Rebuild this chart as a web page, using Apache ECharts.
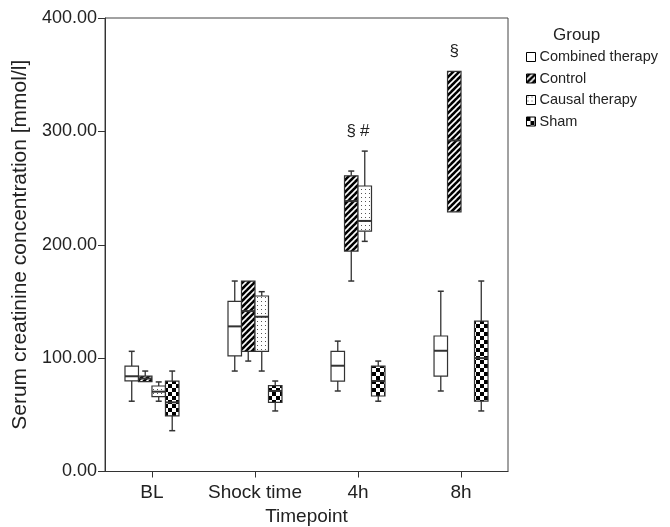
<!DOCTYPE html>
<html>
<head>
<meta charset="utf-8">
<script src="https://cdn.jsdelivr.net/npm/echarts@6/dist/echarts.min.js"></script>
<style>
  html, body { margin: 0; padding: 0; background: #fff; }
  #chart { width: 670px; height: 527px; }
</style>
</head>
<body>
<div id="chart"></div>
<script>
// timepoints on the x axis
const timepoints = ['BL', 'Shock time', '4h', '8h'];
const groupNames = ['Combined therapy', 'Control', 'Causal therapy', 'Sham'];
const yTicks = [0, 100, 200, 300, 400];

// box values per timepoint: [timepointIndex, low, q1, median, q3, high]
const combinedBoxes = [
  [0, 62, 80, 84, 93, 106],
  [1, 88.6, 102, 128, 150, 168],
  [2, 71, 79.8, 93.3, 106, 115],
  [3, 71, 84.2, 106.5, 119.5, 159]
];
const controlBoxes = [
  [0, 79.2, 79.2, 82, 84.2, 88.6],
  [1, 97.4, 106, 141.5, 168, 168],
  [2, 168, 194.4, 238.5, 260.8, 265],
  [3, 229, 229, 292, 353, 353]
];
const causalBoxes = [
  [0, 62, 66, 70.4, 75.4, 79],
  [1, 88.6, 106, 136.5, 154.8, 158.6],
  [2, 203, 212, 221, 251.8, 282.6]
];
const shamBoxes = [
  [0, 36, 49, 61, 79.8, 88.6],
  [1, 53.4, 61, 71, 75.7, 79.8],
  [2, 62, 66.6, 79.8, 93, 97.4],
  [3, 53.4, 62, 100, 132.7, 168]
];

// significance marks: [timepointIndex, groupIndex, text]
const marks = [
  [2, 1, '§'],
  [2, 2, '#'],
  [3, 1, '§']
];

const allBoxes = [combinedBoxes, controlBoxes, causalBoxes, shamBoxes];

function makePattern(kind) {
  const c = document.createElement('canvas');
  const ctx = c.getContext('2d');
  if (kind === 'stripes') {
    c.width = 6; c.height = 6;
    ctx.fillStyle = '#000';
    ctx.fillRect(0, 0, 6, 6);
    ctx.strokeStyle = '#fff';
    ctx.lineWidth = 1.6;
    [[0, 6, 6, 0], [-3, 3, 3, -3], [3, 9, 9, 3]].forEach(l => {
      ctx.beginPath(); ctx.moveTo(l[0], l[1]); ctx.lineTo(l[2], l[3]); ctx.stroke();
    });
  } else if (kind === 'dots') {
    c.width = 4; c.height = 4;
    ctx.fillStyle = '#fff';
    ctx.fillRect(0, 0, 4, 4);
    ctx.fillStyle = '#555';
    ctx.fillRect(1, 1, 1, 1);
  } else if (kind === 'checker') {
    c.width = 8; c.height = 8;
    ctx.fillStyle = '#fff';
    ctx.fillRect(0, 0, 8, 8);
    ctx.fillStyle = '#000';
    ctx.fillRect(0, 0, 4, 4);
    ctx.fillRect(4, 4, 4, 4);
  }
  return { image: c, repeat: 'repeat' };
}

const fills = ['#fff', makePattern('stripes'), makePattern('dots'), makePattern('checker')];
const BOX_W = 0.131; // in timepoint units
const LINE = '#333';
const font = '"Liberation Sans", Arial, sans-serif';

function renderBox(params, api) {
  const g = params.seriesIndex;
  const x = api.value(0) + (g - 1.5) * BOX_W;
  const xl = api.coord([x - BOX_W / 2, 0])[0];
  const xr = api.coord([x + BOX_W / 2, 0])[0];
  const xc = (xl + xr) / 2;
  const y = i => api.coord([x, api.value(i)])[1];
  const low = y(1), q1 = y(2), med = y(3), q3 = y(4), high = y(5);
  const cap = 3;
  const line = (x1, y1, x2, y2, w) => ({
    type: 'line', shape: { x1, y1, x2, y2 },
    style: { stroke: LINE, lineWidth: w || 1 }
  });
  const children = [];
  if (high < q3 - 0.5) {
    children.push(line(xc, high, xc, q3, 1.3), line(xc - cap, high, xc + cap, high, 1.5));
  }
  if (low > q1 + 0.5) {
    children.push(line(xc, q1, xc, low, 1.3), line(xc - cap, low, xc + cap, low, 1.5));
  }
  children.push({
    type: 'rect',
    shape: { x: xl, y: q3, width: xr - xl, height: q1 - q3 },
    style: { fill: fills[g], stroke: LINE, lineWidth: 1.2 }
  });
  children.push(line(xl, med, xr, med, 2));
  return { type: 'group', children };
}

function renderMark(params, api) {
  const t = api.value(0), g = api.value(1);
  const x = t + (g - 1.5) * BOX_W;
  let top = 0;
  allBoxes.forEach(list => list.forEach(b => { if (b[0] === t) top = Math.max(top, b[5]); }));
  const p = api.coord([x, top]);
  return {
    type: 'text',
    x: p[0], y: p[1] - 20,
    style: {
      text: marks[params.dataIndex][2], fill: '#222',
      font: '17px ' + font,
      align: 'center', verticalAlign: 'middle'
    }
  };
}

const chart = echarts.init(document.getElementById('chart'));

const series = allBoxes.map((list, g) => ({
  name: groupNames[g],
  type: 'custom',
  renderItem: renderBox,
  itemStyle: { color: fills[g], borderColor: '#000', borderWidth: 1 },
  encode: { x: 0, y: [1, 2, 3, 4, 5] },
  data: list,
  animation: false
}));
series.push({
  name: 'marks',
  type: 'custom',
  renderItem: renderMark,
  encode: { x: 0, y: -1 },
  data: marks.map(m => [m[0], m[1]]),
  animation: false
});

chart.setOption({
  animation: false,
  title: {
    text: 'Group', left: 548, top: 22,
    textStyle: { fontFamily: font, fontSize: 17, fontWeight: 'normal', color: '#222' }
  },
  legend: {
    data: groupNames,
    orient: 'vertical',
    left: 521, top: 43,
    itemWidth: 9, itemHeight: 9, itemGap: 3.5,
    icon: 'rect',
    selectedMode: false,
    itemStyle: { borderColor: '#000', borderWidth: 1 },
    textStyle: { fontFamily: font, fontSize: 14.5, lineHeight: 18, color: '#222', padding: [0, 0, 0, -1] }
  },
  grid: {
    left: 105, top: 18, width: 403, height: 453.5,
    outerBoundsMode: 'none', containLabel: false,
    show: true, borderColor: '#444', borderWidth: 1, backgroundColor: '#fff'
  },
  xAxis: {
    type: 'value',
    min: -0.456, max: 3.456,
    name: 'Timepoint', nameLocation: 'middle', nameGap: 36,
    nameTextStyle: { fontFamily: font, fontSize: 19, color: '#222' },
    axisLine: { onZero: false, lineStyle: { color: '#333' } },
    axisTick: { show: true, length: 6, customValues: [0, 1, 2, 3], lineStyle: { color: '#333' } },
    axisLabel: {
      customValues: [0, 1, 2, 3], margin: 12,
      formatter: v => timepoints[Math.round(v)],
      fontFamily: font, fontSize: 19, color: '#222'
    },
    splitLine: { show: false }
  },
  yAxis: {
    type: 'value',
    min: yTicks[0], max: yTicks[yTicks.length - 1], interval: 100,
    name: 'Serum creatinine concentration [mmol/l]', nameLocation: 'middle', nameGap: 70,
    nameTextStyle: { fontFamily: font, fontSize: 21, color: '#222' },
    axisLine: { show: true, onZero: false, lineStyle: { color: '#333' } },
    axisTick: { show: true, length: 7, lineStyle: { color: '#333' } },
    axisLabel: {
      margin: 8, formatter: v => v.toFixed(2),
      fontFamily: font, fontSize: 18, color: '#222'
    },
    splitLine: { show: false }
  },
  series
});
</script>
</body>
</html>
